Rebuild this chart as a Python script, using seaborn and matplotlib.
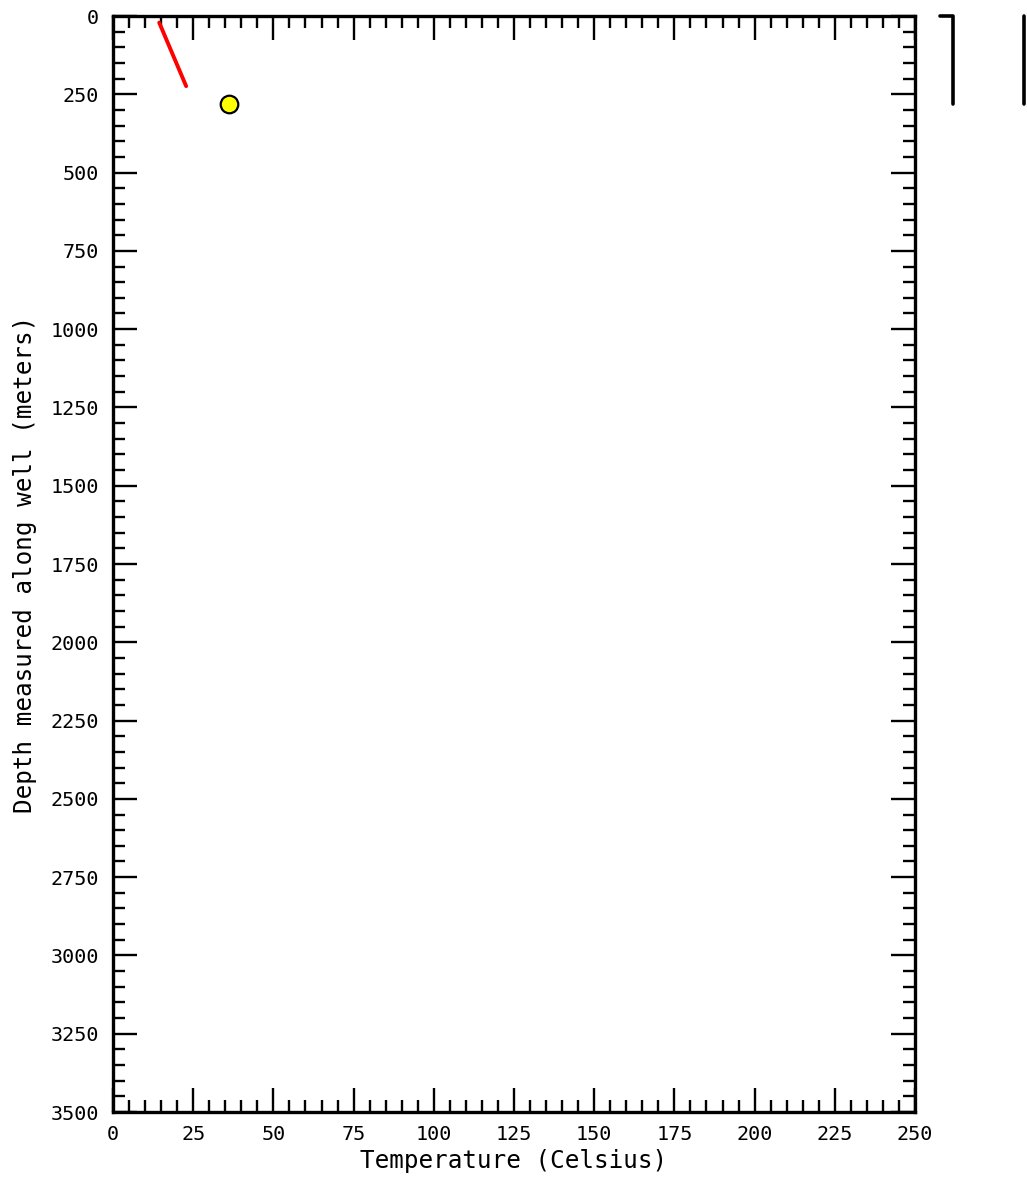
import matplotlib
matplotlib.use("Agg")
import matplotlib.pyplot as plt
from matplotlib.ticker import MultipleLocator
import seaborn as sns
import pandas as pd

# measured temperature profile (red line)
profile_temp = [14.4, 22.8]
profile_depth = [21, 224]

# bottom-hole temperature point
bht_temp = [36.2]
bht_depth = [280]

# well sketch on the right: casing lines down to total depth
well_td = 280
casing_left_x = [0.10, 0.24, 0.24]
casing_left_depth = [0, 0, well_td]
casing_right_x = [0.97, 0.97]
casing_right_depth = [0, well_td]

sns.set_style("ticks")
plt.rcParams['font.family'] = ['DejaVu Sans Mono', 'DejaVu Sans']
plt.rcParams.update({
    'text.color': 'black',
    'axes.labelcolor': 'black',
    'xtick.color': 'black',
    'ytick.color': 'black',
})

fig = plt.figure(figsize=(10.27, 11.78), dpi=100)
ax = fig.add_axes([113 / 1027, 66 / 1178, 802 / 1027, 1096 / 1178])

prof = pd.DataFrame({"temp": profile_temp, "depth": profile_depth})
sns.lineplot(data=prof, x="temp", y="depth", color="red", linewidth=2.8,
             sort=False, ax=ax)
bht = pd.DataFrame({"temp": bht_temp, "depth": bht_depth})
sns.scatterplot(data=bht, x="temp", y="depth", color="yellow", s=160,
                edgecolor="black", linewidth=1.6, zorder=5, ax=ax)

ax.set_xlim(0, 250)
ax.set_ylim(3500, 0)
ax.xaxis.set_major_locator(MultipleLocator(25))
ax.xaxis.set_minor_locator(MultipleLocator(5))
ax.yaxis.set_major_locator(MultipleLocator(250))
ax.yaxis.set_minor_locator(MultipleLocator(50))
ax.tick_params(which="both", direction="in", top=True, right=True,
               width=1.7, color="black", labelsize=14.5)
ax.tick_params(axis="x", pad=9)
ax.tick_params(axis="y", pad=10)
ax.tick_params(which="major", length=17)
ax.tick_params(which="minor", length=8.5)
for sp in ax.spines.values():
    sp.set_linewidth(2.4)
    sp.set_color("black")
ax.set_xlabel("Temperature (Celsius)", fontsize=17.5, labelpad=4)
ax.set_ylabel("Depth measured along well (meters)", fontsize=17.5, labelpad=10)

# well column
wax = fig.add_axes([930 / 1027, 66 / 1178, 97 / 1027, 1096 / 1178])
wax.set_xlim(0, 1)
wax.set_ylim(3500, 0)
wax.axis("off")
wax.plot(casing_left_x, casing_left_depth, color="black", linewidth=2.6,
         clip_on=False)
wax.plot(casing_right_x, casing_right_depth, color="black", linewidth=2.6,
         clip_on=False)

fig.savefig("out.png", dpi=100)
